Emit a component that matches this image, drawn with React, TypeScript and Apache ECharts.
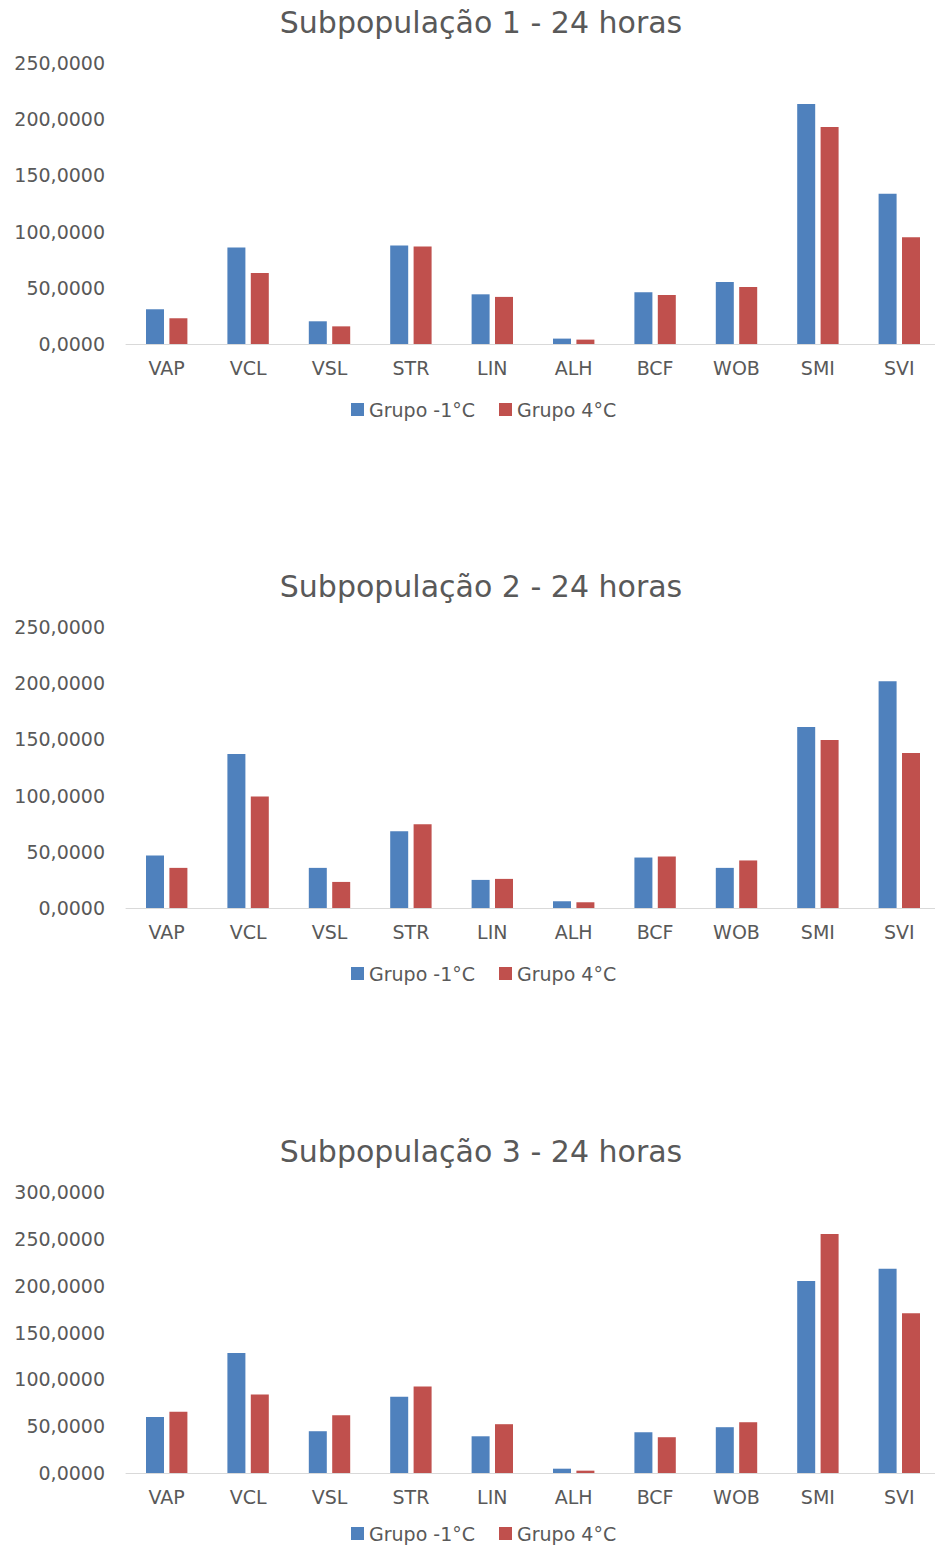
import React, { useEffect, useRef } from "react";
import * as echarts from "echarts";

const categories = ["VAP", "VCL", "VSL", "STR", "LIN", "ALH", "BCF", "WOB", "SMI", "SVI"];
const seriesNames = ["Grupo -1°C", "Grupo 4°C"];
const titles = ["Subpopulação 1 - 24 horas", "Subpopulação 2 - 24 horas", "Subpopulação 3 - 24 horas"];

const sub1Cold = [30.9, 85.8, 20.2, 87.6, 44.2, 4.8, 46.0, 55.2, 213.5, 133.6];
const sub1Warm = [22.9, 63.2, 15.7, 86.7, 41.9, 3.9, 43.6, 50.8, 193.0, 95.0];
const sub2Cold = [46.7, 136.9, 35.7, 68.2, 25.0, 6.0, 44.9, 35.7, 161.0, 201.8];
const sub2Warm = [35.7, 99.1, 23.2, 74.4, 25.9, 5.1, 45.8, 42.3, 149.4, 137.8];
const sub3Cold = [59.9, 128.1, 44.6, 81.3, 39.2, 4.6, 43.5, 48.9, 205.1, 218.0];
const sub3Warm = [65.3, 83.8, 61.7, 92.4, 52.1, 2.5, 38.2, 54.2, 255.1, 170.5];

const yMax = [250, 250, 300];
const yInterval = 50;

const coldData = [sub1Cold, sub2Cold, sub3Cold];
const warmData = [sub1Warm, sub2Warm, sub3Warm];

const BLUE = "#4F81BD";
const RED = "#C0504D";
const TEXT = "#595959";
const FONT = "DejaVu Sans";

export default function App() {
  const ref = useRef<HTMLDivElement>(null);
  useEffect(() => {
    if (!ref.current) return;
    const chart = echarts.init(ref.current, null, { renderer: "svg" });
    const offsets = [0, 564, 1129];
    const legendTops = [395, 959, 1519];
    const grids: any[] = [];
    const xAxes: any[] = [];
    const yAxes: any[] = [];
    const series: any[] = [];
    const legends: any[] = [];
    const graphics: any[] = [];
    offsets.forEach((off, i) => {
      grids.push({ left: 126, width: 814, top: 63 + off, height: 281, containLabel: false });
      xAxes.push({
        type: "category",
        gridIndex: i,
        data: categories,
        axisLine: { show: true, lineStyle: { color: "#D9D9D9", width: 1 } },
        axisTick: { show: false },
        axisLabel: { color: TEXT, fontFamily: FONT, fontSize: 19, margin: 14 },
      });
      yAxes.push({
        type: "value",
        gridIndex: i,
        min: 0,
        max: yMax[i],
        interval: yInterval,
        axisLine: { show: false },
        axisTick: { show: false },
        splitLine: { show: false },
        axisLabel: {
          color: TEXT,
          fontFamily: FONT,
          fontSize: 19,
          margin: 21,
          formatter: (v: number) => v.toFixed(4).replace(".", ","),
        },
      });
      series.push({
        name: seriesNames[0],
        type: "bar",
        xAxisIndex: i,
        yAxisIndex: i,
        data: coldData[i],
        barWidth: 18,
        barGap: "30%",
        itemStyle: { color: BLUE },
      });
      series.push({
        name: seriesNames[1],
        type: "bar",
        xAxisIndex: i,
        yAxisIndex: i,
        data: warmData[i],
        barWidth: 18,
        barGap: "30%",
        itemStyle: { color: RED },
      });
      legends.push({
        data: seriesNames,
        left: 346,
        top: legendTops[i],
        itemWidth: 13,
        itemHeight: 13,
        itemGap: 24,
        icon: "rect",
        textStyle: { color: TEXT, fontFamily: FONT, fontSize: 19 },
      });
      graphics.push({
        type: "text",
        x: 481,
        y: 22 + off,
        style: {
          text: titles[i],
          fill: TEXT,
          font: `30px "${FONT}"`,
          textAlign: "center",
          textVerticalAlign: "middle",
        },
      });
    });
    chart.setOption({
      animation: false,
      backgroundColor: "#ffffff",
      grid: grids,
      xAxis: xAxes,
      yAxis: yAxes,
      series,
      legend: legends,
      graphic: graphics,
      tooltip: { show: false },
    });
    return () => chart.dispose();
  }, []);
  return (
    <div
      style={{
        position: "absolute",
        left: 0,
        top: 0,
        width: 935,
        height: 1549,
        overflow: "hidden",
        background: "#ffffff",
      }}
    >
      <div ref={ref} style={{ width: 950, height: 1549 }} />
    </div>
  );
}
